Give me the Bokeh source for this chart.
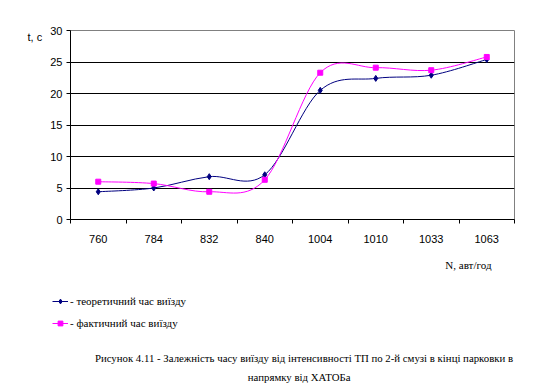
import numpy as np
from bokeh.plotting import figure
from bokeh.layouts import column
from bokeh.models import Range1d, FixedTicker, Legend, LegendItem, ColumnDataSource, Title
from bokeh.embed import file_html
from bokeh.resources import INLINE
from bokeh.core.properties import value

# ---- data ----
categories = ["760", "784", "832", "840", "1004", "1010", "1033", "1063"]
theoretical = [4.4, 5.0, 6.8, 7.1, 20.5, 22.4, 22.9, 25.4]
actual = [6.0, 5.7, 4.4, 6.3, 23.3, 24.1, 23.7, 25.8]
y_ticks = [0, 5, 10, 15, 20, 25, 30]

series_names = ["- теоретичний час виїзду", "- фактичний час виїзду"]
y_title = "t, c"
x_title = "N, авт/год"
caption_lines = ["Рисунок 4.11 - Залежність часу виїзду від інтенсивності ТП по 2-й смузі в кінці парковки в",
                 "напрямку від ХАТОБа"]

NAVY = "#000080"
PINK = "#FF00FF"
SANS = "Liberation Sans"
SERIF = "Liberation Serif"

xs = [i + 0.5 for i in range(len(categories))]


def smooth_segments(x, y):
    """Catmull-Rom style Bezier segments (as in a smoothed office chart line)."""
    n = len(x)
    P = np.array(list(zip(x, y)), dtype=float)
    d = dict(x0=[], y0=[], x1=[], y1=[], cx0=[], cy0=[], cx1=[], cy1=[])
    for i in range(n - 1):
        p0 = P[i - 1] if i > 0 else P[i]
        p1 = P[i]
        p2 = P[i + 1]
        p3 = P[i + 2] if i + 2 < n else P[i + 1]
        c1 = p1 + (p2 - p0) / 6.0
        c2 = p2 - (p3 - p1) / 6.0
        d["x0"].append(p1[0]); d["y0"].append(p1[1])
        d["x1"].append(p2[0]); d["y1"].append(p2[1])
        d["cx0"].append(c1[0]); d["cy0"].append(c1[1])
        d["cx1"].append(c2[0]); d["cy1"].append(c2[1])
    return ColumnDataSource(d)


# ---------------- chart ----------------
p = figure(width=540, height=250, output_backend="svg", toolbar_location=None,
           x_range=Range1d(0, len(categories)), y_range=Range1d(0, 30),
           min_border_left=70, min_border_right=26, min_border_top=30, min_border_bottom=31)
p.frame_align = False
p.background_fill_color = "white"
p.border_fill_color = "white"
p.outline_line_color = "#808080"
p.outline_line_width = 1

# x axis: labels at category centres, ticks at category boundaries
p.xaxis.ticker = FixedTicker(ticks=xs, minor_ticks=list(range(len(categories) + 1)))
p.xaxis.major_label_overrides = {x: c for x, c in zip(xs, categories)}
p.xaxis.major_tick_line_color = None
p.xaxis.minor_tick_line_color = "black"
p.xaxis.minor_tick_out = 4
p.xaxis.minor_tick_in = 0
p.xaxis.axis_line_color = "black"
p.xaxis.major_label_text_font = SANS
p.xaxis.major_label_text_font_size = "11px"
p.xaxis.major_label_text_color = "black"
p.xaxis.major_label_standoff = 9

p.yaxis.ticker = FixedTicker(ticks=y_ticks)
p.yaxis.axis_line_color = "black"
p.yaxis.major_tick_line_color = "black"
p.yaxis.major_tick_out = 4
p.yaxis.major_tick_in = 0
p.yaxis.minor_tick_line_color = None
p.yaxis.major_label_text_font = SANS
p.yaxis.major_label_text_font_size = "11px"
p.yaxis.major_label_text_color = "black"
p.yaxis.major_label_standoff = 4

p.xgrid.visible = False
p.ygrid.ticker = FixedTicker(ticks=y_ticks[1:-1])
p.ygrid.grid_line_color = "black"
p.ygrid.grid_line_width = 1

# series
p.bezier(x0="x0", y0="y0", x1="x1", y1="y1", cx0="cx0", cy0="cy0", cx1="cx1", cy1="cy1",
         source=smooth_segments(xs, theoretical), line_color=NAVY, line_width=1)
p.scatter(xs, theoretical, marker="diamond", size=6, color=NAVY)
p.bezier(x0="x0", y0="y0", x1="x1", y1="y1", cx0="cx0", cy0="cy0", cx1="cx1", cy1="cy1",
         source=smooth_segments(xs, actual), line_color=PINK, line_width=1)
p.scatter(xs, actual, marker="square", size=5, color=PINK)

# y title at top-left
p.add_layout(Title(text=y_title, align="left", offset=-43, standoff=-25,
                   text_font=SANS, text_font_size="11px", text_font_style="normal",
                   text_color="black"), "above")

# ---------------- x title, legend and caption area ----------------
H2 = 139
q = figure(width=540, height=H2, output_backend="svg", toolbar_location=None,
           x_range=Range1d(0, 540), y_range=Range1d(0, H2),
           x_axis_location=None, y_axis_location=None, min_border=0)
q.frame_align = False
q.outline_line_color = None
q.xgrid.visible = False
q.ygrid.visible = False
q.background_fill_color = "white"
q.border_fill_color = "white"

# legend sample renderers: the same series, mapped to a range outside the view
q.extra_x_ranges = {"hidden": Range1d(100, 101)}
l1 = q.line(xs, theoretical, line_color=NAVY, line_width=1, x_range_name="hidden")
s1 = q.scatter(xs, theoretical, marker="diamond", size=6, color=NAVY, x_range_name="hidden")
l2 = q.line(xs, actual, line_color=PINK, line_width=1, x_range_name="hidden")
s2 = q.scatter(xs, actual, marker="square", size=5, color=PINK, x_range_name="hidden")

legend = Legend(items=[LegendItem(label=series_names[0], renderers=[l1, s1]),
                       LegendItem(label=series_names[1], renderers=[l2, s2])],
                location=(52, 60), orientation="vertical",
                margin=0, padding=0, spacing=10, glyph_width=16, glyph_height=12,
                label_standoff=2, label_height=12,
                border_line_color=None, background_fill_alpha=0,
                label_text_font=SERIF, label_text_font_size="11px", label_text_color="black")
q.add_layout(legend, "center")

q.text(x=[491], y=[125], text=[x_title],
       text_font=value(SERIF), text_font_size="11px", text_align="right",
       text_baseline="middle", text_color="black")

q.text(x=[303.5, 298.7], y=[32, 13], text=caption_lines,
       text_font=value(SERIF), text_font_size="10.8px", text_align="center",
       text_baseline="middle", text_color="black")

open("out.html", "w").write(file_html(column(p, q), INLINE))
